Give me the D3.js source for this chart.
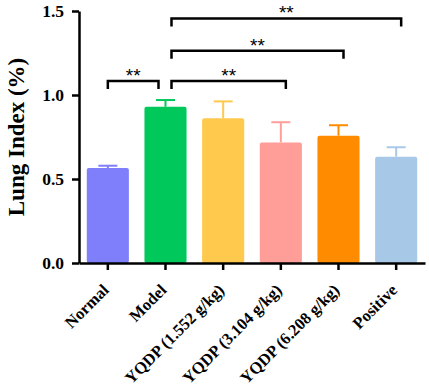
<!DOCTYPE html>
<html>
<head>
<meta charset="utf-8">
<script src="https://cdn.jsdelivr.net/npm/d3@7"></script>
<style>
  body { margin: 0; background: #fff; }
  .lbl { font-family: "Liberation Serif", "Times New Roman", serif; font-weight: bold; }
</style>
</head>
<body>
<div id="chart"></div>
<script>
// data
var groups = ["Normal", "Model", "YQDP (1.552 g/kg)", "YQDP (3.104 g/kg)", "YQDP (6.208 g/kg)", "Positive"];
var means = [0.565, 0.93, 0.862, 0.718, 0.758, 0.633];
var sds = [0.014, 0.04, 0.10, 0.12, 0.062, 0.056];
var colors = ["#7f7ffb", "#00c85a", "#ffc94d", "#ff9e99", "#ff8c00", "#a8c8e8"];
var yTicks = [0, 0.5, 1.0, 1.5];
// significance brackets: [from group, to group, height, label]
var brackets = [
  [0, 1, 1.083, "**"],
  [1, 3, 1.083, "**"],
  [1, 4, 1.264, "**"],
  [1, 5, 1.456, "**"]
];

var W = 429, H = 386;
var svg = d3.select("#chart").append("svg")
  .attr("width", W).attr("height", H);

var x = d3.scaleBand().domain(groups).range([79, 425]).paddingInner(0).paddingOuter(0);
var y = d3.scaleLinear().domain([0, 1.5]).range([263, 11]);
var barW = x.bandwidth() * 0.73;
var cx = function (g) { return x(g) + x.bandwidth() / 2; };

// bars
svg.selectAll(".bar")
  .data(groups)
  .enter()
  .append("rect")
  .attr("class", "bar")
  .attr("x", function (d) { return cx(d) - barW / 2; })
  .attr("y", function (d, i) { return y(means[i]); })
  .attr("width", barW)
  .attr("height", function (d, i) { return y(0) - y(means[i]); })
  .attr("rx", 2)
  .attr("fill", function (d, i) { return colors[i]; });

// error bars (upper only)
var err = svg.selectAll(".err").data(groups).enter().append("g").attr("class", "err");
err.append("line")
  .attr("x1", function (d) { return cx(d); })
  .attr("x2", function (d) { return cx(d); })
  .attr("y1", function (d, i) { return y(means[i]); })
  .attr("y2", function (d, i) { return y(means[i] + sds[i]); })
  .attr("stroke", function (d, i) { return colors[i]; })
  .attr("stroke-width", 2);
err.append("line")
  .attr("x1", function (d) { return cx(d) - 9.5; })
  .attr("x2", function (d) { return cx(d) + 9.5; })
  .attr("y1", function (d, i) { return y(means[i] + sds[i]); })
  .attr("y2", function (d, i) { return y(means[i] + sds[i]); })
  .attr("stroke", function (d, i) { return colors[i]; })
  .attr("stroke-width", 2);

// y axis
var yAxis = svg.append("g")
  .attr("transform", "translate(79,0)")
  .call(d3.axisLeft(y).tickValues(yTicks).tickFormat(d3.format(".1f")).tickSize(7).tickSizeOuter(0));
yAxis.select(".domain").attr("stroke-width", 2.5);
yAxis.selectAll(".tick line").attr("stroke-width", 2.5);
yAxis.selectAll(".tick text")
  .attr("class", "lbl")
  .attr("font-size", 17.5)
  .attr("x", -15)
  .attr("fill", "#000");

// x axis
var xAxis = svg.append("g")
  .attr("transform", "translate(0,263)")
  .call(d3.axisBottom(x).tickSize(7).tickSizeOuter(0));
xAxis.select(".domain").attr("stroke-width", 2.5);
xAxis.selectAll(".tick line").attr("stroke-width", 2.5);
xAxis.selectAll(".tick text")
  .attr("class", "lbl")
  .attr("font-size", 16.5)
  .attr("fill", "#000")
  .attr("text-anchor", "end")
  .attr("dy", null)
  .attr("y", 0)
  .attr("transform", "translate(2,28) rotate(-45)");

// y title
svg.append("text")
  .attr("class", "lbl")
  .attr("transform", "translate(24,137) rotate(-90)")
  .attr("text-anchor", "middle")
  .attr("font-size", 23)
  .text("Lung Index (%)");

// significance brackets
var br = svg.selectAll(".br").data(brackets).enter().append("g").attr("class", "br");
var bx1 = function (d) { return cx(groups[d[0]]) + (d[0] === 1 ? 6 : 0); };
var bx2 = function (d) { return cx(groups[d[1]]) + (d[1] === 1 ? -7 : 5); };
br.append("path")
  .attr("d", function (d) {
    var yy = y(d[2]);
    return "M" + bx1(d) + "," + (yy + 8) + "V" + yy + "H" + bx2(d) + "V" + (yy + 8);
  })
  .attr("fill", "none")
  .attr("stroke", "#000")
  .attr("stroke-width", 2.5);
br.append("text")
  .attr("x", function (d) { return (bx1(d) + bx2(d)) / 2; })
  .attr("y", function (d) { return y(d[2]) + 1; })
  .attr("text-anchor", "middle")
  .attr("font-family", "Liberation Sans, Arial, sans-serif")
  .attr("font-size", 19)
  .text(function (d) { return d[3]; });
</script>
</body>
</html>
